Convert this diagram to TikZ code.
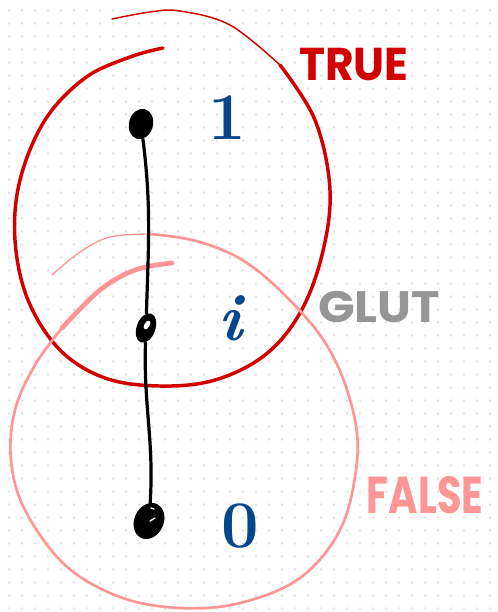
\documentclass[tikz,border=0pt]{standalone}
\usepackage{fontspec}
\usepackage{tikz}
\usetikzlibrary{shapes.geometric}
\newfontfamily\tagfont{Poppins}
\definecolor{truered}{RGB}{210,0,0}
\definecolor{falsepink}{RGB}{255,150,150}
\definecolor{glutgray}{RGB}{150,150,150}
\definecolor{numblue}{RGB}{5,70,140}
\definecolor{gridgray}{RGB}{226,226,226}

\tikzset{
  blob/.style={ellipse, fill=black, inner sep=0pt},
  numlabel/.style={text=numblue, font=\fontsize{50}{50}\selectfont\bfseries},
  tag/.style={font=\tagfont\fontsize{30}{30}\selectfont\bfseries, inner sep=0pt},
  wire/.style={line width=2.4pt, line cap=round},
}

\begin{document}
\begin{tikzpicture}[x=0.75pt, y=-0.75pt]
  \useasboundingbox[fill=white] (0,0) rectangle (498,612);
  % dotted paper
  \foreach \i in {0,...,37}{
    \foreach \j in {0,...,46}{
      \fill[gridgray] (9+13*\i, 10.5+13*\j) circle (1.1pt);
    }
  }
  % TRUE loop
  \draw[truered, line width=1.1pt, line cap=round]
    plot[smooth, tension=0.6] coordinates {(112,19) (150,12) (180,11) (230,25) (280,65)};
  \draw[truered, line width=2.6pt, line cap=round]
    plot[smooth, tension=0.6] coordinates {(280,65) (315,120) (330,190) (322,255) (300,313)
      (265,355) (215,380) (160,386) (105,378) (60,350) (28,300) (15,240) (20,180)
      (45,120) (85,78) (130,57) (163,48)};
  % FALSE loop
  \draw[falsepink, line width=1pt, line cap=round]
    plot[smooth, tension=0.6] coordinates {(52,275) (80,252) (110,237) (150,234)};
  \draw[falsepink, line width=2pt, line cap=round]
    plot[smooth, tension=0.6] coordinates {(150,234) (200,242) (250,265) (302,313)
      (335,360) (355,420) (356,470) (340,530) (300,578) (240,603) (180,608) (120,597)
      (65,565) (25,510) (11,460) (15,410) (35,365) (62,328)};
  \draw[falsepink, line width=3.6pt, line cap=round]
    plot[smooth, tension=0.6] coordinates {(62,328) (100,290) (135,270) (172,263)};
  % points of the lattice
  \node[blob, minimum width=18pt, minimum height=23pt, rotate=-15] (one) at (141,124) {};
  \node[blob, minimum width=14pt, minimum height=23pt, rotate=-20] (mid) at (146,328) {};
  \fill[white, rotate around={-30:(147,325)}] (147,325) ellipse (2pt and 3.6pt);
  \node[blob, minimum width=22pt, minimum height=28pt, rotate=-25] (zero) at (149,521) {};
  \draw[white, line width=1pt, line cap=round] (151,508) -- (154,509) (150,521) -- (155,518);
  \draw[wire] (one) to[out=-80, in=92] (mid);
  \draw[wire] (mid) to[out=-88, in=92] (zero);
  % values
  \node[numlabel] (l1) at (227,118) {1};
  \node[numlabel] (li) at (230,318) {\itshape i};
  \node[numlabel] (l0) at (240,526) {0};
  % names
  \node[tag, text=truered, xscale=1.1, yscale=1.15] (ttrue) at (354,65) {TRUE};
  \node[tag, text=glutgray, xscale=1.2, yscale=1.1] (tglut) at (379,307) {GLUT};
  \node[tag, text=falsepink, yscale=1.3] (tfalse) at (425,495) {FALSE};
\end{tikzpicture}
\end{document}
